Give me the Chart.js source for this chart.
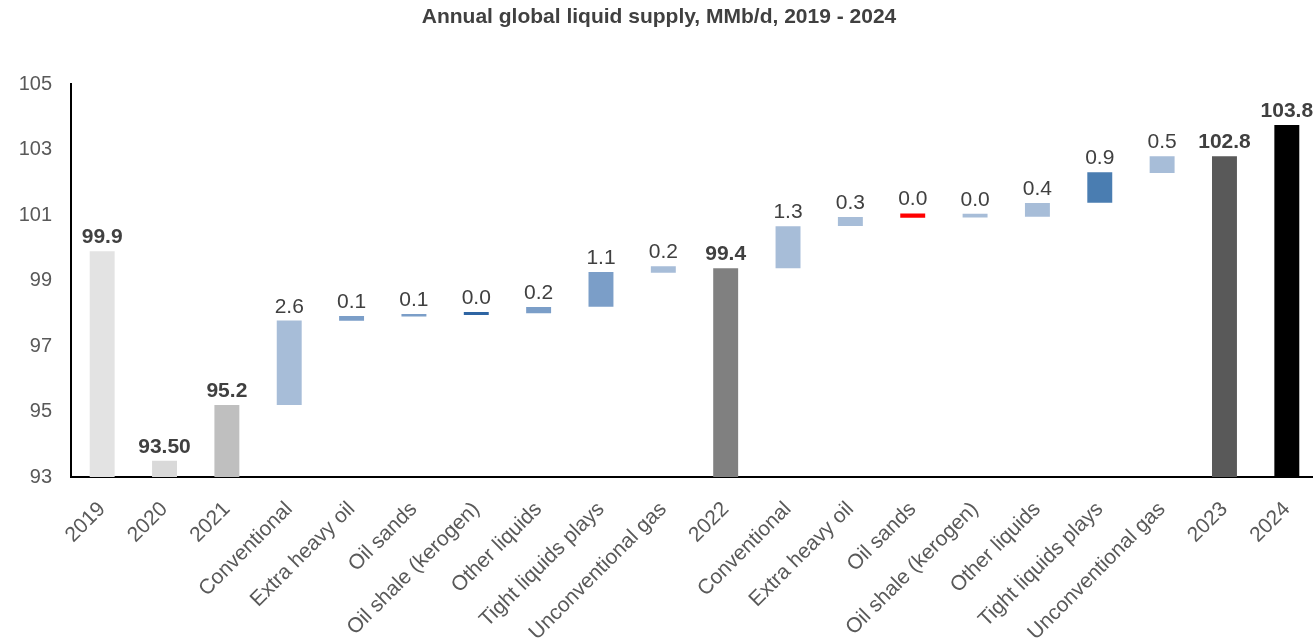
<!DOCTYPE html>
<html>
<head>
<meta charset="utf-8">
<script src="https://cdn.jsdelivr.net/npm/chart.js@4"></script>
<style>
  body { margin: 0; background: #fff; overflow: hidden; }
  #wrap { width: 1318px; height: 640px; position: relative; }
</style>
</head>
<body>
<div id="wrap"><canvas id="supplyChart"></canvas></div>
<script>
// categories along the bottom
const categories = [
  "2019", "2020", "2021",
  "Conventional", "Extra heavy oil", "Oil sands", "Oil shale (kerogen)",
  "Other liquids", "Tight liquids plays", "Unconventional gas",
  "2022",
  "Conventional", "Extra heavy oil", "Oil sands", "Oil shale (kerogen)",
  "Other liquids", "Tight liquids plays", "Unconventional gas",
  "2023", "2024"
];

// bottom and top of each floating bar (MMb/d)
const barLow = [
  93, 93, 93,
  95.2, 97.77, 97.9, 97.95, 98.0, 98.2, 99.24,
  93,
  99.38, 100.67, 100.92, 100.93, 100.95, 101.38, 102.29,
  93, 93
];
const barHigh = [
  99.9, 93.5, 95.2,
  97.78, 97.92, 97.98, 98.04, 98.19, 99.26, 99.44,
  99.38,
  100.66, 100.94, 101.05, 101.04, 101.37, 102.31, 102.8,
  102.8, 103.75
];

// text shown over each bar
const valueLabels = [
  "99.9", "93.50", "95.2",
  "2.6", "0.1", "0.1", "0.0", "0.2", "1.1", "0.2",
  "99.4",
  "1.3", "0.3", "0.0", "0.0", "0.4", "0.9", "0.5",
  "102.8", "103.8"
];

// which bars are totals (bold labels)
const totalBars = [0, 1, 2, 10, 18, 19];

const barColors = [
  "#e3e3e3", "#d9d9d9", "#bfbfbf",
  "#a7bdd8", "#7b9ec8", "#7b9ec8", "#2e65a3", "#7b9ec8", "#7b9ec8", "#a7bdd8",
  "#808080",
  "#a7bdd8", "#a7bdd8", "#ff0000", "#a7bdd8", "#a7bdd8", "#4a7db1", "#a7bdd8",
  "#595959", "#000000"
];

Chart.defaults.font.family = "'Liberation Sans', Arial, sans-serif";

// draw the value text above each bar
const valueLabelPlugin = {
  id: "valueLabels",
  afterDatasetsDraw(chart) {
    const c = chart.ctx;
    const meta = chart.getDatasetMeta(0);
    c.save();
    c.textAlign = "center";
    c.textBaseline = "alphabetic";
    c.fillStyle = "#404040";
    meta.data.forEach(function (bar, i) {
      const top = Math.min(bar.y, bar.base);
      const bold = totalBars.indexOf(i) >= 0;
      c.font = (bold ? "bold " : "") + "21px 'Liberation Sans', Arial, sans-serif";
      c.fillText(valueLabels[i], bar.x, top - 8);
    });
    c.restore();
  }
};

const ctx = document.getElementById("supplyChart").getContext("2d");

const supplyChart = new Chart(ctx, {
  type: "bar",
  data: {
    labels: categories,
    datasets: [
      {
        data: categories.map(function (_, i) { return [barLow[i], barHigh[i]]; }),
        backgroundColor: barColors,
        borderWidth: 0,
        barPercentage: 0.4,
        categoryPercentage: 1.0,
      },
    ],
  },
  options: {
    responsive: true,
    maintainAspectRatio: false,
    animation: false,
    layout: {
      padding: { left: 0, right: 0, top: 0, bottom: 0 },
    },
    plugins: {
      legend: { display: false },
      tooltip: { enabled: false },
      title: {
        display: true,
        text: "Annual global liquid supply, MMb/d, 2019 - 2024",
        color: "#404040",
        font: { size: 21, weight: "bold" },
        padding: { top: 5, bottom: 54 },
      },
    },
    scales: {
      x: {
        grid: { display: false },
        border: { display: true, color: "#000", width: 2 },
        ticks: {
          color: "#595959",
          font: { size: 21 },
          minRotation: 45,
          maxRotation: 45,
          padding: 12,
          autoSkip: false,
        },
        afterFit: function (scale) {
          scale.height = 163;
        },
      },
      y: {
        min: 93,
        max: 105,
        grid: { display: false },
        border: { display: true, color: "#000", width: 2 },
        ticks: {
          stepSize: 2,
          color: "#595959",
          font: { size: 20 },
          padding: 11,
        },
        afterFit: function (scale) {
          scale.width = 71;
        },
      },
    },
  },
  plugins: [valueLabelPlugin],
});
</script>
</body>
</html>
